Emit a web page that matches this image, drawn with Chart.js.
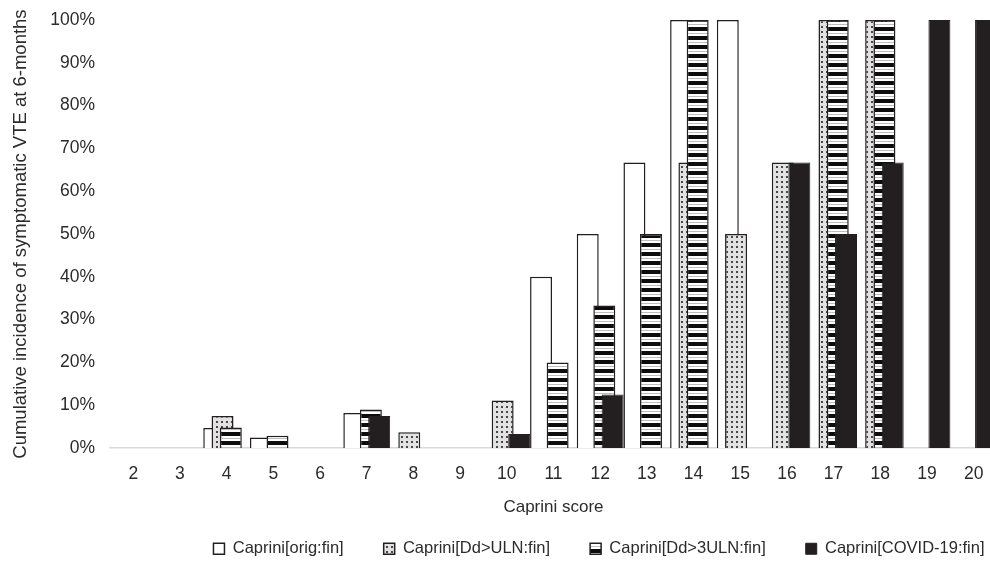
<!DOCTYPE html>
<html>
<head>
<meta charset="utf-8">
<script src="https://cdn.jsdelivr.net/npm/chart.js@4"></script>
<style>
  html, body { margin: 0; padding: 0; background: #fff; overflow: hidden; width: 990px; height: 579px; }
  #wrap { width: 1010px; height: 579px; }
  canvas { display: block; }
</style>
</head>
<body>
<div id="wrap"><canvas id="c" width="1010" height="579"></canvas></div>
<script>
// ---- data ----
const categories = ['2','3','4','5','6','7','8','9','10','11','12','13','14','15','16','17','18','19','20'];
const seriesNames = ['Caprini[orig:fin]', 'Caprini[Dd>ULN:fin]', 'Caprini[Dd>3ULN:fin]', 'Caprini[COVID-19:fin]'];
const origFin    = [0, 0, 4.7, 2.5, 0, 8.2, 0,   0, 0,    40, 50,   66.7, 100,  100, 0,    0,   0,    0,   0];
const ulnFin     = [0, 0, 7.5, 0,   0, 0,   3.7, 0, 11.1, 0,  0,    0,    66.7, 50,  66.7, 100, 100,  0,   0];
const uln3Fin    = [0, 0, 4.8, 2.9, 0, 9.0, 0,   0, 0,    20, 33.3, 50,   100,  0,   0,    100, 100,  0,   0];
const covidFin   = [0, 0, 0,   0,   0, 7.5, 0,   0, 3.3,  0,  12.5, 0,    0,    0,   66.7, 50,  66.7, 100, 100];
const yTicks = [0,10,20,30,40,50,60,70,80,90,100];

// ---- patterns ----
function makePattern(w, h, draw) {
  const c = document.createElement('canvas');
  c.width = w; c.height = h;
  const x = c.getContext('2d');
  draw(x);
  return x.createPattern(c, 'repeat');
}
const dotPattern = makePattern(5, 5, x => {
  x.fillStyle = '#e2e2e2'; x.fillRect(0, 0, 5, 5);
  x.fillStyle = '#474747'; x.fillRect(1, 1, 2, 2);
});
const stripePattern = makePattern(8, 9, x => {
  x.fillStyle = '#ffffff'; x.fillRect(0, 0, 8, 9);
  x.fillStyle = '#0d0d0d'; x.fillRect(0, 0, 8, 4);
  x.fillStyle = '#bdbdbd'; x.fillRect(0, 6, 8, 1);
});

const dark = '#231f20';
const txt = '#2b2b2b';
const fontFam = '"Liberation Sans", Arial, sans-serif';

// draw datasets in data order (first series at the back)
const drawInOrder = {
  id: 'drawInOrder',
  beforeDatasetsDraw(chart) {
    chart.data.datasets.forEach((ds, i) => {
      const meta = chart.getDatasetMeta(i);
      if (meta.visible) meta.controller.draw();
    });
    return false;
  }
};

const legendShift = {
  id: 'legendShift',
  afterLayout(chart) {
    const L = chart.legend;
    const d = 599 - (L.left + L.right) / 2;
    L.left += d; L.right += d;
  }
};

new Chart(document.getElementById('c'), {
  type: 'bar',
  data: {
    labels: categories,
    datasets: [
      { label: seriesNames[0], data: origFin,  backgroundColor: '#ffffff',   borderColor: dark, borderWidth: 1.5 },
      { label: seriesNames[1], data: ulnFin,   backgroundColor: dotPattern,  borderColor: dark, borderWidth: 1.5 },
      { label: seriesNames[2], data: uln3Fin,  backgroundColor: stripePattern, borderColor: dark, borderWidth: 1.5 },
      { label: seriesNames[3], data: covidFin, backgroundColor: dark,        borderColor: dark, borderWidth: 1 }
    ]
  },
  options: {
    responsive: false,
    animation: false,
    categoryPercentage: 0.71,
    barPercentage: 2.65,
    layout: { padding: { top: 20, right: 13, bottom: 12, left: 0 } },
    plugins: {
      tooltip: { enabled: false },
      legend: {
        position: 'bottom',
        labels: {
          boxWidth: 11, boxHeight: 11, padding: 40,
          color: txt,
          font: { family: fontFam, size: 16.5 }
        }
      }
    },
    scales: {
      x: {
        grid: { display: false, drawTicks: false },
        border: { display: true, color: '#d9d9d9', width: 1.5 },
        ticks: { color: txt, padding: 16, font: { family: fontFam, size: 17.5 }, maxRotation: 0, autoSkip: false },
        title: { display: true, text: 'Caprini score', color: txt, font: { family: fontFam, size: 17 }, padding: { top: -4, bottom: -17 } }
      },
      y: {
        min: 0, max: 100,
        afterBuildTicks(scale) { scale.ticks = yTicks.map(v => ({ value: v })); },
        grid: { display: false, drawTicks: true, tickLength: 12 },
        border: { display: false },
        ticks: { color: txt, padding: 3, font: { family: fontFam, size: 17.5 }, callback: v => v + '%' },
        title: { display: true, text: 'Cumulative incidence of symptomatic VTE at 6-months', color: txt, font: { family: fontFam, size: 18.5 }, padding: { top: 10, bottom: 15 } }
      }
    }
  },
  plugins: [drawInOrder, legendShift]
});
</script>
</body>
</html>
